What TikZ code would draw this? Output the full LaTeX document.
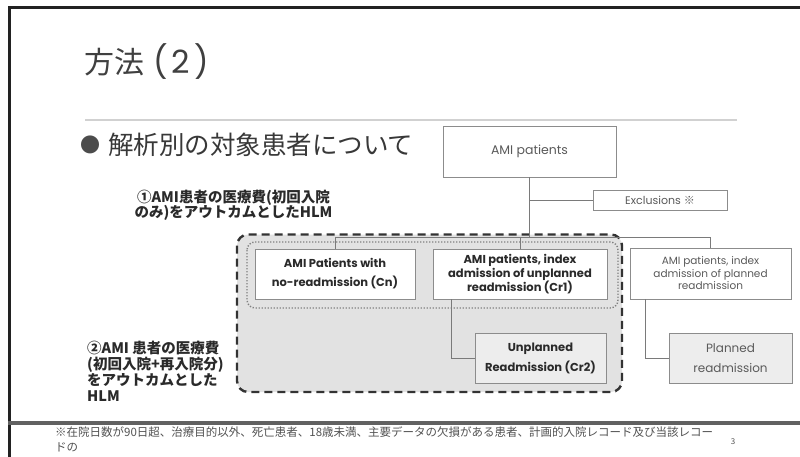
\documentclass[tikz,border=0pt]{standalone}
\usepackage{fontspec}
\setmainfont{Poppins}
\newfontfamily\jp{Noto Sans CJK JP}
\definecolor{framec}{HTML}{222222}
\definecolor{connc}{HTML}{7A7A7A}
\definecolor{boxc}{HTML}{8C8C8C}
\definecolor{gtext}{HTML}{5A5A5A}
\definecolor{btext}{HTML}{2A2A2A}
\definecolor{regionfill}{HTML}{E2E2E2}
\definecolor{lightfill}{HTML}{EDEDED}
\tikzset{
  frameline/.style={draw=framec, line width=2.6pt},
  conn/.style={draw=connc, line width=0.9pt},
  gbox/.style={draw=boxc, line width=0.9pt, fill=white, inner sep=0pt, align=center, text=gtext},
  bbox/.style={gbox, text=btext},
  jplabel/.style={inner sep=0pt, text=btext, font=\jp\bfseries\fontsize{14.5}{16}\selectfont}
}
\begin{document}
\begin{tikzpicture}[x=1pt,y=-1pt]
\useasboundingbox[fill=white] (0,0) rectangle (800,457);
% frame
\draw[frameline] (9.5,7.5) -- (800,7.5);
\draw[draw=framec, line width=2.2pt] (9.5,6.2) -- (9.5,457);
\draw[draw=black!62, line width=3.5pt] (8.4,423) -- (800,423);
% title
\node[anchor=west, inner sep=0pt, text=black!75, font=\jp\fontsize{30}{34}\selectfont] (title) at (84,62) {方法\hspace{9pt}{\rmfamily\fontsize{32}{34}\selectfont(\hspace{4pt}2\hspace{4pt})}};
\draw[draw=black!18, line width=1.4pt] (85,120) -- (737,120);
\node[inner sep=0pt, text=black!70, font=\jp\fontsize{20}{22}\selectfont] (bullet) at (90.5,145) {●};
\node[anchor=west, inner sep=0pt, text=black!78, font=\jp\fontsize{25.5}{28}\selectfont] (sub) at (108,145) {解析別の対象患者について};
% labels
\node[jplabel, align=center, font=\jp\bfseries\fontsize{14.5}{15.5}\selectfont] (lab1) at (233.5,205.5) {①AMI患者の医療費(初回入院\\のみ)をアウトカムとしたHLM};
\node[jplabel, align=left, anchor=west] (lab2) at (87,371) {②AMI 患者の医療費\\(初回入院+再入院分)\\をアウトカムとした\\HLM};
% regions
\draw[draw=black!80, fill=regionfill, line width=2.4pt, dash pattern=on 8pt off 5pt, rounded corners=11pt] (237,234.5) rectangle (622,392);
\draw[draw=black!50, line width=1.4pt, dash pattern=on 1.3pt off 1.7pt, rounded corners=8pt] (247,242) rectangle (618,308);
% boxes
\node[gbox, minimum width=173pt, minimum height=51pt, font=\fontsize{12.5}{15}\selectfont] (ami) at (529.5,151.5) {AMI patients};
\node[gbox, minimum width=134pt, minimum height=20pt, font=\fontsize{11}{13}\selectfont] (excl) at (660,200) {Exclusions {\jp ※}};
\node[bbox, minimum width=160pt, minimum height=50pt, font=\bfseries\fontsize{11.5}{19}\selectfont] (cn) at (335,274) {AMI Patients with\\no-readmission (Cn)};
\node[bbox, minimum width=174pt, minimum height=50pt, font=\bfseries\fontsize{11.5}{14}\selectfont] (cr1) at (520,274) {AMI patients, index\\admission of unplanned\\readmission (Cr1)};
\node[bbox, fill=lightfill, minimum width=131pt, minimum height=50pt, font=\bfseries\fontsize{11.5}{20}\selectfont] (cr2) at (540.5,358) {Unplanned\\Readmission (Cr2)};
\node[gbox, minimum width=161pt, minimum height=51pt, font=\fontsize{10.5}{12.5}\selectfont] (pidx) at (710.5,273.5) {AMI patients, index\\admission of planned\\readmission};
\node[gbox, fill=lightfill, minimum width=123pt, minimum height=50pt, font=\fontsize{12}{20}\selectfont] (pre) at (730.5,358) {Planned\\readmission};
% connectors
\coordinate (hl) at (0,237);
\draw[conn] (ami.south) -- (ami.south |- hl);
\draw[conn] (ami.south |- excl.west) -- (excl.west);
\draw[conn] (cn.north |- hl) -- (pidx.north |- hl);
\draw[conn] (cn.north) -- (cn.north |- hl);
\draw[conn] (cr1.north) -- (cr1.north |- hl);
\draw[conn] (pidx.north) -- (pidx.north |- hl);
\draw[conn] ([xshift=19pt]cr1.south west) |- (cr2.west);
\draw[conn] ([xshift=16pt]pidx.south west) |- (pre.west);
% footer
\node[anchor=west, inner sep=0pt, text=black!68, font=\jp\fontsize{11.5}{13}\selectfont] (foot1) at (55,432.5) {※在院日数が90日超、治療目的以外、死亡患者、18歳未満、主要データの欠損がある患者、計画的入院レコード及び当該レコー};
\node[anchor=west, inner sep=0pt, text=black!68, font=\jp\fontsize{11.5}{13}\selectfont] (foot2) at (55,447.5) {ドの};
\node[inner sep=0pt, text=black!68, font=\jp\fontsize{8}{9}\selectfont] (pnum) at (733,442) {3};
\end{tikzpicture}
\end{document}
